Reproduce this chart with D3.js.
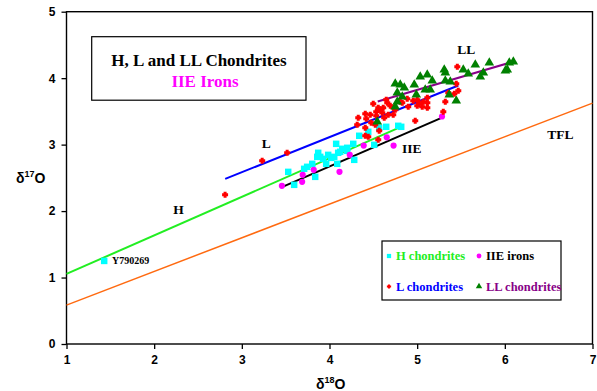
<!DOCTYPE html>
<html>
<head>
<meta charset="utf-8">
<script src="https://cdn.jsdelivr.net/npm/d3@7"></script>
<style>
  body { margin: 0; background: #fff; }
  svg { display: block; }
</style>
</head>
<body>
<svg id="chart" width="597" height="391"></svg>
<script>
// H chondrites [d18O, d17O]
const hChondrites = [
  [1.43, 1.25],
  [3.529, 2.590], [3.597, 2.395], [3.711, 2.636], [3.745, 2.666], [3.803, 2.711],
  [3.837, 2.515], [3.860, 2.816], [3.871, 2.877], [3.894, 2.816], [3.928, 2.786],
  [3.962, 2.711], [3.985, 2.846], [4.019, 2.801], [4.054, 2.816], [4.076, 3.012],
  [4.099, 2.877], [4.122, 2.892], [4.145, 2.937], [4.202, 2.952], [4.202, 2.907],
  [4.271, 3.012], [4.282, 2.771], [4.339, 3.133], [4.442, 3.193], [4.510, 2.997],
  [4.567, 3.253], [4.647, 3.268], [4.784, 3.283], [4.818, 3.268], [4.088, 2.711]
];

const iieIrons = [
  [3.457, 2.380], [3.694, 2.545], [3.688, 2.440], [3.820, 2.620], [4.114, 2.590],
  [4.231, 2.846], [4.390, 2.986], [4.653, 3.110], [4.731, 2.986], [5.283, 3.423]
];

const lChondrites = [
  [2.809, 2.244], [3.232, 2.756], [3.517, 2.877],
  [4.316, 3.298], [4.328, 3.404], [4.408, 3.464], [4.419, 3.389], [4.408, 3.253],
  [4.476, 3.328], [4.408, 3.133], [4.442, 3.117], [4.556, 3.072], [4.567, 3.208],
  [4.522, 3.298], [4.499, 3.614], [4.533, 3.494], [4.556, 3.554], [4.579, 3.524],
  [4.602, 3.479], [4.533, 3.434], [4.613, 3.554], [4.647, 3.675], [4.659, 3.630],
  [4.693, 3.584], [4.624, 3.404], [4.670, 3.449], [4.727, 3.449], [4.727, 3.554],
  [4.750, 3.524], [4.807, 3.645], [4.830, 3.630], [4.887, 3.690], [4.898, 3.569],
  [4.955, 3.660], [5.001, 3.584], [5.001, 3.675], [5.024, 3.614], [5.070, 3.645],
  [5.116, 3.705], [5.116, 3.630], [5.116, 3.554], [5.058, 3.569], [4.978, 3.358],
  [5.321, 3.645], [5.298, 3.494], [5.355, 3.780], [5.424, 3.765], [5.446, 3.916],
  [5.469, 3.810], [5.458, 4.172], [4.465, 3.449]
];

const llChondrites = [
  [4.545, 3.343], [4.750, 3.916], [4.807, 3.901], [4.853, 3.855], [4.773, 3.780],
  [4.830, 3.720], [4.773, 3.645], [4.750, 3.569], [4.967, 3.901], [5.035, 4.021],
  [5.115, 4.051], [5.172, 3.961], [5.092, 3.825], [5.149, 3.825], [4.990, 3.750],
  [5.309, 4.127], [5.321, 4.081], [5.321, 3.961], [5.378, 3.946], [5.366, 3.750],
  [5.446, 3.660], [5.526, 4.127], [5.583, 4.066], [5.663, 4.202], [5.720, 4.021],
  [5.755, 4.081], [5.823, 4.232], [6.006, 4.111], [6.028, 4.127], [6.051, 4.232],
  [6.097, 4.247]
];

// fit lines, start and end points
const lineNames = ['TFL', 'H', 'L', 'LL', 'IIE'];
const lineEnds = [
  [[1, 0.585], [7, 3.625]],
  [[1, 1.054], [4.82, 3.27]],
  [[2.81, 2.485], [5.47, 3.89]],
  [[4.55, 3.65], [6.10, 4.25]],
  [[3.457, 2.36], [5.29, 3.41]]
];
const lineColors = ['#ff6a10', '#22ee22', '#0000ff', '#880088', '#000000'];

const xTicks = [1, 2, 3, 4, 5, 6, 7];
const yTicks = [0, 1, 2, 3, 4, 5];

const svg = d3.select('#chart');
const mLeft = 66.5, mRight = 592.5, mTop = 11.7, mBottom = 344;

const x = d3.scaleLinear().domain([1, 7]).range([mLeft, mRight]);
const y = d3.scaleLinear().domain([0, 5]).range([mBottom, mTop]);

const sans = 'Liberation Sans, Arial, sans-serif';
const serif = 'Liberation Serif, Times New Roman, serif';

// fat plus marker used for the L chondrites
const fatPlus = {
  draw: function(ctx, size) {
    const w = Math.sqrt(size) / 2, t = w * 0.5;
    ctx.moveTo(-t, -w);
    ctx.lineTo(t, -w);
    ctx.lineTo(t, -t);
    ctx.lineTo(w, -t);
    ctx.lineTo(w, t);
    ctx.lineTo(t, t);
    ctx.lineTo(t, w);
    ctx.lineTo(-t, w);
    ctx.lineTo(-t, t);
    ctx.lineTo(-w, t);
    ctx.lineTo(-w, -t);
    ctx.lineTo(-t, -t);
    ctx.closePath();
  }
};

// axes
const xAxis = svg.append('g')
    .attr('transform', `translate(0,${mBottom})`)
    .call(d3.axisBottom(x).tickValues(xTicks).tickSize(5).tickPadding(6).tickFormat(d3.format('d')));
const yAxis = svg.append('g')
    .attr('transform', `translate(${mLeft},0)`)
    .call(d3.axisLeft(y).tickValues(yTicks).tickSize(5).tickPadding(6).tickFormat(d3.format('d')));

[xAxis, yAxis].forEach(function(a) {
  a.select('.domain').remove();
  a.selectAll('line').attr('stroke', '#000').attr('stroke-width', 1.3);
  a.selectAll('text')
      .attr('font-family', sans)
      .attr('font-weight', 'bold')
      .attr('font-size', 12)
      .attr('fill', '#000');
});

// plot frame
svg.append('rect')
    .attr('x', mLeft).attr('y', mTop)
    .attr('width', mRight - mLeft).attr('height', mBottom - mTop)
    .attr('fill', 'none')
    .attr('stroke', '#000')
    .attr('stroke-width', 1.4);

// axis titles
const xt = svg.append('text')
    .attr('x', 316).attr('y', 389)
    .attr('font-family', sans).attr('font-weight', 'bold').attr('font-size', 14);
xt.append('tspan').text('δ');
xt.append('tspan').attr('font-size', 9).attr('dy', -6).text('18');
xt.append('tspan').attr('dy', 6).text('O');

const yt = svg.append('text')
    .attr('x', 16).attr('y', 183)
    .attr('font-family', sans).attr('font-weight', 'bold').attr('font-size', 14);
yt.append('tspan').text('δ');
yt.append('tspan').attr('font-size', 9).attr('dy', -6).text('17');
yt.append('tspan').attr('dy', 6).text('O');

// lines
svg.append('g')
  .selectAll('line')
  .data(lineEnds)
  .enter().append('line')
    .attr('x1', d => x(d[0][0]))
    .attr('y1', d => y(d[0][1]))
    .attr('x2', d => x(d[1][0]))
    .attr('y2', d => y(d[1][1]))
    .attr('stroke', (d, i) => lineColors[i])
    .attr('stroke-width', (d, i) => i === 0 ? 1.5 : 2);

// points
function drawPoints(data, type, size, colour) {
  svg.append('g')
    .selectAll('path')
    .data(data)
    .enter().append('path')
      .attr('transform', d => `translate(${x(d[0])},${y(d[1])})`)
      .attr('d', d3.symbol().type(type).size(size))
      .attr('fill', colour);
}

drawPoints(hChondrites, d3.symbolSquare, 42, '#00ffff');
drawPoints(iieIrons, d3.symbolCircle, 30, '#ff00ff');
drawPoints(lChondrites, fatPlus, 36, '#ff0000');
drawPoints(llChondrites, d3.symbolTriangle, 40, '#008000');

// line labels (x = left edge, y = baseline)
const labelPos = [[6.485, 3.087], [2.219, 1.958], [3.228, 2.947], [5.458, 4.367], [4.826, 2.872]];
svg.append('g')
  .selectAll('text')
  .data(lineNames)
  .enter().append('text')
    .attr('x', (d, i) => x(labelPos[i][0]))
    .attr('y', (d, i) => y(labelPos[i][1]))
    .attr('font-family', serif)
    .attr('font-weight', 'bold')
    .attr('font-size', 13.5)
    .text(d => d);

svg.append('text')
    .attr('x', 112).attr('y', 264)
    .attr('font-family', serif).attr('font-weight', 'bold').attr('font-size', 10)
    .text('Y790269');

// title box
svg.append('rect')
    .attr('x', 91.7).attr('y', 36.7)
    .attr('width', 214.3).attr('height', 63.5)
    .attr('fill', '#fff').attr('stroke', '#000').attr('stroke-width', 1.2);
svg.append('text')
    .attr('x', 199).attr('y', 66).attr('text-anchor', 'middle')
    .attr('font-family', serif).attr('font-weight', 'bold').attr('font-size', 17)
    .text('H, L and LL Chondrites');
svg.append('text')
    .attr('x', 205).attr('y', 87).attr('text-anchor', 'middle')
    .attr('font-family', serif).attr('font-weight', 'bold').attr('font-size', 17)
    .attr('fill', '#ff00ff')
    .text('IIE Irons');

// legend
const legendNames = ['H chondrites', 'IIE irons', 'L chondrites', 'LL chondrites'];
const legendText = ['#22ee22', '#000000', '#0000ff', '#880088'];
const legendMark = ['#00ffff', '#ff00ff', '#ff0000', '#008000'];
const legendSym = [d3.symbolSquare, d3.symbolCircle, fatPlus, d3.symbolTriangle];

svg.append('rect')
    .attr('x', 382).attr('y', 241)
    .attr('width', 179).attr('height', 59)
    .attr('fill', '#fff').attr('stroke', '#000').attr('stroke-width', 1.2);

const lg = svg.append('g')
  .selectAll('g')
  .data(legendNames)
  .enter().append('g')
    .attr('transform', (d, i) => `translate(${i % 2 ? 479 : 389},${i < 2 ? 256 : 286.5})`);
lg.append('path')
    .attr('d', (d, i) => d3.symbol().type(legendSym[i]).size(18)())
    .attr('fill', (d, i) => legendMark[i]);
lg.append('text')
    .attr('x', 7).attr('y', 4)
    .attr('font-family', serif).attr('font-weight', 'bold').attr('font-size', 12.5)
    .attr('fill', (d, i) => legendText[i])
    .text(d => d);
</script>
</body>
</html>
